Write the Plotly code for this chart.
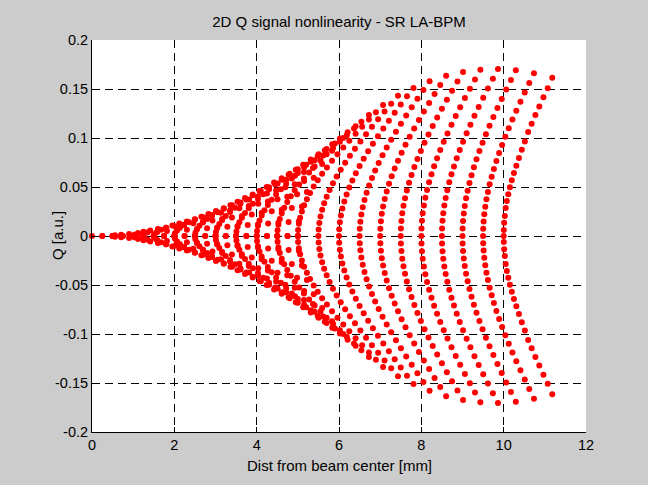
import plotly.graph_objects as go

# Beam grid positions (mm): horizontal positions and vertical positions (>= 0, mirrored below)
x_grid_mm = [0.0, 0.5, 1.0, 1.5, 2.0, 2.5, 3.0, 3.5, 4.0, 4.5, 5.0,
             5.5, 6.0, 6.5, 7.0, 7.5, 8.0, 8.5, 9.0, 9.5, 10.0]
y_grid_mm = [0.0, 0.25, 0.5, 0.75, 1.0, 1.25, 1.5, 1.75, 2.0, 2.25, 2.5,
             2.75, 3.0, 3.25, 3.5, 3.75, 4.0, 4.25, 4.5, 4.75, 5.0]

# Q signal [a.u.]: one row per horizontal position, columns follow y_grid_mm
q_x00 = [0]*1 + [0, 0, 0, 0, 0, 0, 0, 0, 0, 0, 0, 0, 0, 0, 0, 0, 0, 0, 0, 0]
q_x05 = [0, .0007, .0014, .0021, .0029, .0036, .0043, .0050, .0057, .0065, .0072, .0080, .0087, .0095, .0103, .0111, .0118, .0127, .0135, .0143, .0151]
q_x10 = [0, .0014, .0028, .0043, .0057, .0071, .0085, .0100, .0114, .0129, .0144, .0159, .0174, .0189, .0205, .0220, .0236, .0252, .0268, .0285, .0302]
q_x15 = [0, .0021, .0042, .0063, .0085, .0106, .0127, .0149, .0171, .0192, .0214, .0237, .0259, .0282, .0305, .0328, .0352, .0376, .0400, .0425, .0450]
q_x20 = [0, .0028, .0056, .0084, .0112, .0140, .0168, .0197, .0225, .0254, .0283, .0313, .0343, .0373, .0403, .0434, .0465, .0497, .0529, .0561, .0595]
q_x25 = [0, .0034, .0069, .0104, .0138, .0173, .0208, .0243, .0279, .0314, .0350, .0387, .0423, .0461, .0498, .0536, .0575, .0614, .0654, .0694, .0735]
q_x30 = [0, .0041, .0082, .0122, .0163, .0205, .0246, .0288, .0330, .0372, .0415, .0458, .0501, .0545, .0590, .0635, .0681, .0727, .0774, .0822, .0871]
q_x35 = [0, .0047, .0094, .0140, .0187, .0235, .0282, .0330, .0378, .0427, .0476, .0525, .0575, .0625, .0677, .0728, .0781, .0834, .0889, .0944, .1000]
q_x40 = [0, .0052, .0105, .0157, .0210, .0263, .0316, .0370, .0424, .0478, .0533, .0588, .0644, .0701, .0758, .0817, .0876, .0935, .0996, .1058, .1121]
q_x45 = [0, .0058, .0115, .0173, .0231, .0289, .0348, .0406, .0466, .0525, .0586, .0647, .0708, .0771, .0834, .0898, .0963, .1029, .1096, .1165, .1234]
q_x50 = [0, .0062, .0125, .0187, .0250, .0313, .0376, .0440, .0504, .0569, .0634, .0700, .0767, .0835, .0903, .0973, .1043, .1115, .1188, .1262, .1338]
q_x55 = [0, .0066, .0133, .0200, .0267, .0334, .0401, .0469, .0538, .0607, .0677, .0748, .0819, .0891, .0965, .1039, .1115, .1192, .1270, .1349, .1430]
q_x60 = [0, .0070, .0140, .0210, .0281, .0352, .0423, .0495, .0567, .0640, .0714, .0789, .0864, .0941, .1018, .1097, .1177, .1258, .1341, .1425, .1511]
q_x65 = [0, .0073, .0146, .0219, .0293, .0367, .0441, .0516, .0591, .0668, .0745, .0823, .0902, .0982, .1063, .1145, .1229, .1314, .1401, .1489, .1580]
q_x70 = [0, .0075, .0151, .0226, .0302, .0378, .0455, .0532, .0610, .0689, .0768, .0849, .0931, .1013, .1098, .1183, .1270, .1358, .1448, .1540, .1634]
q_x75 = [0, .0077, .0154, .0231, .0308, .0386, .0464, .0543, .0623, .0703, .0785, .0867, .0951, .1036, .1122, .1210, .1299, .1390, .1482, .1577, .1673]
q_x80 = [0, .0077, .0155, .0233, .0311, .0390, .0469, .0548, .0629, .0711, .0793, .0877, .0961, .1047, .1135, .1224, .1315, .1408, .1502, .1598, .1697]
q_x85 = [0, .0077, .0155, .0232, .0311, .0389, .0468, .0548, .0629, .0710, .0793, .0877, .0962, .1048, .1136, .1226, .1317, .1411, .1506, .1604, .1703]
q_x90 = [0, .0076, .0153, .0229, .0306, .0384, .0462, .0541, .0621, .0702, .0783, .0867, .0951, .1037, .1125, .1214, .1306, .1399, .1494, .1592, .1692]
q_x95 = [0, .0074, .0149, .0223, .0298, .0374, .0450, .0527, .0605, .0684, .0765, .0846, .0929, .1014, .1100, .1188, .1278, .1370, .1465, .1562, .1661]
q_x100 = [0, .0061, .0136, .0203, .0285, .0356, .0427, .0498, .0569, .0644, .0718, .0797, .0881, .0965, .1060, .1145, .1234, .1321, .1417, .1508, .1616]

q_rows = [q_x00, q_x05, q_x10, q_x15, q_x20, q_x25, q_x30, q_x35, q_x40, q_x45, q_x50,
          q_x55, q_x60, q_x65, q_x70, q_x75, q_x80, q_x85, q_x90, q_x95, q_x100]

x_tick_vals = [0, 2, 4, 6, 8, 10, 12]
x_tick_text = ["0", "2", "4", "6", "8", "10", "12"]
y_tick_vals = [-0.2, -0.15, -0.1, -0.05, 0, 0.05, 0.1, 0.15, 0.2]
y_tick_text = ["-0.2", "-0.15", "-0.1", "-0.05", "0", "0.05", "0.1", "0.15", "0.2"]

title_text = "2D Q signal nonlinearity - SR LA-BPM"
x_title = "Dist from beam center [mm]"
y_title = "Q [a.u.]"

# distance from beam center and signed Q for every grid position (upper and mirrored lower half)
dist = []
qsig = []
for xp, row in zip(x_grid_mm, q_rows):
    for yp, qv in zip(y_grid_mm, row):
        d = (xp ** 2 + yp ** 2) ** 0.5
        dist.append(d)
        qsig.append(qv)
        if yp > 0:
            dist.append(d)
            qsig.append(-qv)

FONT = "Liberation Sans, Arial, Helvetica, sans-serif"

fig = go.Figure()
fig.add_trace(go.Scatter(
    x=dist, y=qsig, mode="markers",
    marker=dict(color="#ff0000", size=6, line=dict(width=0)),
    hoverinfo="skip", showlegend=False, cliponaxis=False,
))

common_axis = dict(
    ticks="inside", ticklen=5, tickwidth=1, tickcolor="black",
    showgrid=True, gridcolor="black", gridwidth=1, griddash="8px,5px",
    zeroline=False, showline=True, linecolor="black", linewidth=1,
    tickfont=dict(family=FONT, size=14.5, color="black"),
)

fig.update_layout(
    width=648, height=485,
    margin=dict(l=92, r=62, t=40, b=53, pad=0),
    paper_bgcolor="#cccccc", plot_bgcolor="white",
    font=dict(family=FONT, size=15, color="black"),
    title=dict(text=title_text, x=0.5, xref="paper", xanchor="center",
               y=1 - 22 / 485, yref="container", yanchor="middle",
               font=dict(family=FONT, size=15, color="black")),
    xaxis=dict(range=[0, 12], tickmode="array", tickvals=x_tick_vals, ticktext=x_tick_text,
               **common_axis),
    yaxis=dict(range=[-0.2, 0.2], tickmode="array", tickvals=y_tick_vals, ticktext=y_tick_text,
               **common_axis),
    xaxis2=dict(range=[0, 12], overlaying="x", side="top", tickmode="array", tickvals=x_tick_vals,
                ticks="inside", ticklen=5, tickcolor="black", showticklabels=False,
                showgrid=False, zeroline=False, showline=False),
    yaxis2=dict(range=[-0.2, 0.2], overlaying="y", side="right", tickmode="array", tickvals=y_tick_vals,
                ticks="inside", ticklen=5, tickcolor="black", showticklabels=False,
                showgrid=False, zeroline=False, showline=False),
    annotations=[
        dict(text=x_title, xref="paper", yref="paper", x=0.5, y=-(465 - 432) / 392,
             xanchor="center", yanchor="middle", showarrow=False,
             font=dict(family=FONT, size=15, color="black")),
        dict(text=y_title, xref="paper", yref="paper", x=(57 - 92) / 494, y=0.5,
             xanchor="center", yanchor="middle", textangle=-90, showarrow=False,
             font=dict(family=FONT, size=15, color="black")),
    ],
)

fig.write_html("out.html")
